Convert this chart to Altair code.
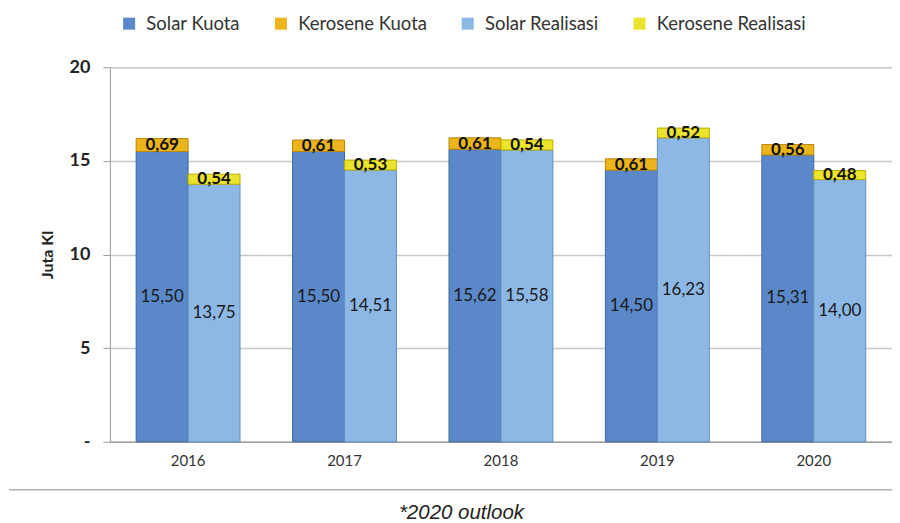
import altair as alt
import pandas as pd

years = ["2016", "2017", "2018", "2019", "2020"]
solar_kuota = [15.50, 15.50, 15.62, 14.50, 15.31]
kerosene_kuota = [0.69, 0.61, 0.61, 0.61, 0.56]
solar_realisasi = [13.75, 14.51, 15.58, 16.23, 14.00]
kerosene_realisasi = [0.54, 0.53, 0.54, 0.52, 0.48]

series_names = ["Solar Kuota", "Kerosene Kuota", "Solar Realisasi", "Kerosene Realisasi"]
series_colors = ["#5a88c8", "#ecb51c", "#8db8e6", "#ece32c"]
series_strokes = ["#3d669f", "#b8860b", "#5f8fc0", "#b8b000"]

rows = []
for i, y in enumerate(years):
    rows.append(dict(year=y, group="Kuota", fuel="Solar", series="Solar Kuota", ord=0, value=solar_kuota[i]))
    rows.append(dict(year=y, group="Kuota", fuel="Kerosene", series="Kerosene Kuota", ord=1, value=kerosene_kuota[i]))
    rows.append(dict(year=y, group="Realisasi", fuel="Solar", series="Solar Realisasi", ord=0, value=solar_realisasi[i]))
    rows.append(dict(year=y, group="Realisasi", fuel="Kerosene", series="Kerosene Realisasi", ord=1, value=kerosene_realisasi[i]))
df = pd.DataFrame(rows)

FONT = "Lato"
W, H = 783, 375

base = alt.Chart(df).transform_stack(
    stack="value", groupby=["year", "group"], as_=["y0", "y1"],
    sort=[alt.SortField("ord", order="ascending")]
).transform_calculate(
    mid="(datum.y0 + datum.y1) / 2",
    lbl="replace(format(datum.value, '.2f'), '.', ',')"
)

x_enc = alt.X("year:N", sort=years, title=None,
              scale=alt.Scale(paddingInner=0.336, paddingOuter=0.168),
              axis=alt.Axis(labelAngle=0, labelFont=FONT, labelFontSize=15,
                            labelColor="#333333", labelPadding=12, ticks=False,
                            domainColor="#a0a0a0", domainWidth=1.5))
xoff = alt.XOffset("group:N", sort=["Kuota", "Realisasi"], scale=alt.Scale(paddingInner=0, paddingOuter=0))
y_scale = alt.Scale(domain=[0, 20], nice=False)

bars = base.mark_bar(strokeWidth=1).encode(
    x=x_enc,
    xOffset=xoff,
    y=alt.Y("y0:Q", scale=y_scale, title="Juta Kl",
            axis=alt.Axis(values=[0, 5, 10, 15, 20],
                          labelExpr="datum.value == 0 ? '-' : datum.label",
                          labelFont=FONT, labelFontSize=18, labelFontWeight="bold",
                          labelColor="#222222", labelPadding=13,
                          tickSize=7, tickColor="#a0a0a0",
                          domainColor="#a0a0a0",
                          grid=True, gridColor="#c8c8c8", gridWidth=1.5,
                          titleFont=FONT, titleFontSize=16, titleFontWeight="bold",
                          titleColor="#222222", titlePadding=14)),
    y2="y1:Q",
    color=alt.Color("series:N", scale=alt.Scale(domain=series_names, range=series_colors),
                    legend=alt.Legend(title=None, orient="none", direction="horizontal",
                                      legendX=10, legendY=-53, columns=4,
                                      symbolType="square", symbolSize=144,
                                      symbolStrokeWidth=0,
                                      labelFont=FONT, labelFontSize=18.5, labelColor="#333333",
                                      columnPadding=31, labelOffset=8)),
    stroke=alt.Stroke("series:N", scale=alt.Scale(domain=series_names, range=series_strokes),
                      legend=None),
)

solar_text = base.transform_filter("datum.fuel == 'Solar'").mark_text(
    font=FONT, fontSize=17, color="#1a1a1a"
).encode(x=x_enc, xOffset=xoff, y=alt.Y("mid:Q", scale=y_scale), text="lbl:N")

kero_text = base.transform_filter("datum.fuel == 'Kerosene'").mark_text(
    font=FONT, fontSize=17, fontWeight="bold", color="#111111"
).encode(x=x_enc, xOffset=xoff, y=alt.Y("mid:Q", scale=y_scale), text="lbl:N")

footer_rule = alt.Chart(pd.DataFrame({"a": [0]})).mark_rule(color="#b0b0b0", strokeWidth=1.5).encode(
    x=alt.value(-101), x2=alt.value(790), y=alt.value(423)
)
footer_text = alt.Chart(pd.DataFrame({"t": ["*2020 outlook"]})).mark_text(
    font="Liberation Sans", fontSize=20.5, fontStyle="italic", color="#222222"
).encode(x=alt.value(352), y=alt.value(446), text="t:N")

chart = alt.layer(bars, solar_text, kero_text, footer_rule, footer_text).properties(
    width=W, height=H,
    autosize=alt.AutoSizeParams(type="none"),
    padding={"left": 102, "top": 59, "right": 0, "bottom": 81},
).configure_view(stroke=None).configure(background="white")

chart.save("out.html", embed_options={"renderer": "svg", "actions": False})
